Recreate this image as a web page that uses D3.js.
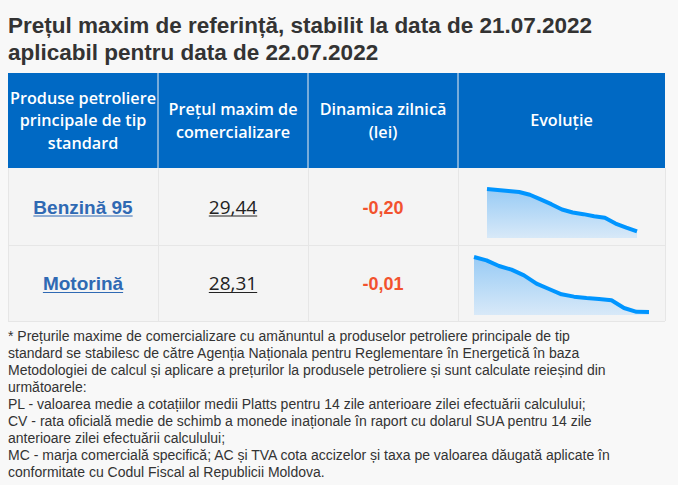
<!DOCTYPE html>
<html><head><meta charset="utf-8">
<script src="https://cdn.jsdelivr.net/npm/d3@7"></script>
<style>
html,body{margin:0;padding:0;background:#f8f8f8;}
svg{display:block;}
</style></head>
<body><svg id="c" width="678" height="485"></svg>
<script>
// ---- data ----
const titleLines = ["Prețul maxim de referință, stabilit la data de 21.07.2022", "aplicabil pentru data de 22.07.2022"];
const headers = [
  ["Produse petroliere", "principale de tip", "standard"],
  ["Prețul maxim de", "comercializare"],
  ["Dinamica zilnică", "(lei)"],
  ["Evoluție"]
];
const products = ["Benzină 95", "Motorină"];
const prices = ["29,44", "28,31"];
const dailyChange = ["-0,20", "-0,01"];
const evolBenzina = [31.73, 31.68, 31.62, 31.57, 31.42, 31.17, 30.91, 30.62, 30.46, 30.37, 30.26, 30.17, 29.86, 29.64, 29.44];
const evolMotorina = [31.61, 31.41, 31.07, 30.85, 30.51, 30.01, 29.69, 29.37, 29.23, 29.15, 29.09, 29.01, 28.55, 28.32, 28.31];
const footnoteLines = [
  "* Prețurile maxime de comercializare cu amănuntul a produselor petroliere principale de tip",
  "standard se stabilesc de către Agenția Naționala pentru Reglementare în Energetică în baza",
  "Metodologiei de calcul și aplicare a prețurilor la produsele petroliere și sunt calculate reieșind din",
  "următoarele:",
  "PL - valoarea medie a cotațiilor medii Platts pentru 14 zile anterioare zilei efectuării calculului;",
  "CV - rata oficială medie de schimb a monede inaționale în raport cu dolarul SUA pentru 14 zile",
  "anterioare zilei efectuării calculului;",
  "MC - marja comercială specifică; AC și TVA cota accizelor și taxa pe valoarea dăugată aplicate în",
  "conformitate cu Codul Fiscal al Republicii Moldova."
];
const series = [evolBenzina, evolMotorina];

// ---- layout ----
const svg = d3.select("#c");
const colX = [8, 158, 308, 458, 665];
const headTop = 73, headBot = 168;
const rowY = [168, 245, 321];
const sparkBox = [
  {x0: 487, x1: 637, y0: 189, y1: 238, pad: 0.157},
  {x0: 474, x1: 649, y0: 257, y1: 315, pad: 0.055}
];

// title
svg.append("g").selectAll("text").data(titleLines).join("text")
  .attr("x", 8).attr("y", (d, i) => 33 + i * 26.5)
  .attr("font-family", "Liberation Sans, Arial, sans-serif")
  .attr("font-weight", "bold").attr("font-size", 22.5).attr("fill", "#333")
  .text(d => d);

// header
const hg = svg.append("g");
hg.append("rect").attr("x", colX[0]).attr("y", headTop)
  .attr("width", colX[4] - colX[0]).attr("height", headBot - headTop).attr("fill", "#0069c4");
hg.selectAll("line.sep").data(colX.slice(1, 4)).join("line")
  .attr("x1", d => d).attr("x2", d => d).attr("y1", headTop).attr("y2", headBot)
  .attr("stroke", "#f0f0f0").attr("stroke-width", 1);
headers.forEach((lines, c) => {
  const cx = (colX[c] + colX[c + 1]) / 2;
  const lh = 22.8;
  const mid = (headTop + headBot) / 2;
  const first = mid - (lines.length - 1) * lh / 2 + 5.8;
  hg.append("g").selectAll("text").data(lines).join("text")
    .attr("x", cx).attr("y", (d, i) => first + i * lh)
    .attr("text-anchor", "middle")
    .attr("font-family", "Open Sans, sans-serif").attr("font-weight", 600)
    .attr("font-size", 16.2).attr("fill", "#fff").text(d => d);
});

// body rows
const bg = svg.append("g");
bg.selectAll("rect").data(products).join("rect")
  .attr("x", colX[0]).attr("y", (d, i) => rowY[i])
  .attr("width", colX[4] - colX[0]).attr("height", (d, i) => rowY[i + 1] - rowY[i])
  .attr("fill", "#f4f4f4");
bg.selectAll("line.v").data(colX).join("line")
  .attr("x1", d => d + 0.5).attr("x2", d => d + 0.5).attr("y1", rowY[0]).attr("y2", rowY[2])
  .attr("stroke", "#e6e6e6");
bg.selectAll("line.h").data(rowY.slice(1)).join("line").attr("class", "h")
  .attr("x1", colX[0]).attr("x2", colX[4]).attr("y1", d => d + 0.5).attr("y2", d => d + 0.5)
  .attr("stroke", "#e6e6e6");

function cellText(g, x, y, txt, opts) {
  const t = g.append("text").attr("x", x).attr("y", y).attr("text-anchor", "middle")
    .attr("font-family", opts.family).attr("font-weight", opts.weight)
    .attr("font-size", opts.size).attr("fill", opts.color).text(txt);
  if (opts.underline) {
    const w = t.node().getComputedTextLength();
    g.append("line").attr("x1", x - w / 2).attr("x2", x + w / 2)
      .attr("y1", y + opts.uoff).attr("y2", y + opts.uoff)
      .attr("stroke", opts.color).attr("stroke-width", 1.2);
  }
}

products.forEach((p, i) => {
  const cy = (rowY[i] + rowY[i + 1]) / 2 + 7;
  cellText(bg, (colX[0] + colX[1]) / 2, cy, p,
    {family: "Liberation Sans, Arial, sans-serif", weight: "bold", size: 19, color: "#2f69b3", underline: true, uoff: 2.5});
  cellText(bg, (colX[1] + colX[2]) / 2, cy, prices[i],
    {family: "Open Sans, sans-serif", weight: 400, size: 19, color: "#222", underline: true, uoff: 2.5});
  cellText(bg, (colX[2] + colX[3]) / 2, cy, dailyChange[i],
    {family: "Liberation Sans, Arial, sans-serif", weight: "bold", size: 18, color: "#f2522e", underline: false});
});

// sparklines
const defs = svg.append("defs");
const grad = defs.append("linearGradient").attr("id", "ag").attr("x1", 0).attr("y1", 0).attr("x2", 0).attr("y2", 1);
grad.append("stop").attr("offset", "0%").attr("stop-color", "#98cbf5");
grad.append("stop").attr("offset", "100%").attr("stop-color", "#d8e9f8");

series.forEach((vals, i) => {
  const b = sparkBox[i];
  const mx = d3.max(vals), mn = d3.min(vals);
  const x = d3.scaleLinear().domain([0, vals.length - 1]).range([b.x0, b.x1]);
  const y = d3.scaleLinear().domain([mn - b.pad * (mx - mn), mx]).range([b.y1, b.y0]);
  const g = svg.append("g");
  g.append("path").datum(vals)
    .attr("d", d3.area().x((d, k) => x(k)).y0(b.y1).y1(d => y(d)))
    .attr("fill", "url(#ag)");
  g.append("path").datum(vals)
    .attr("d", d3.line().x((d, k) => x(k)).y(d => y(d)))
    .attr("fill", "none").attr("stroke", "#0095ff").attr("stroke-width", 4)
    .attr("stroke-linejoin", "round");
});

// footnote
svg.append("g").selectAll("text").data(footnoteLines).join("text")
  .attr("x", 8).attr("y", (d, i) => 341 + i * 17)
  .attr("font-family", "Liberation Sans, Arial, sans-serif")
  .attr("font-size", 14).attr("fill", "#333").text(d => d);
</script></body></html>
